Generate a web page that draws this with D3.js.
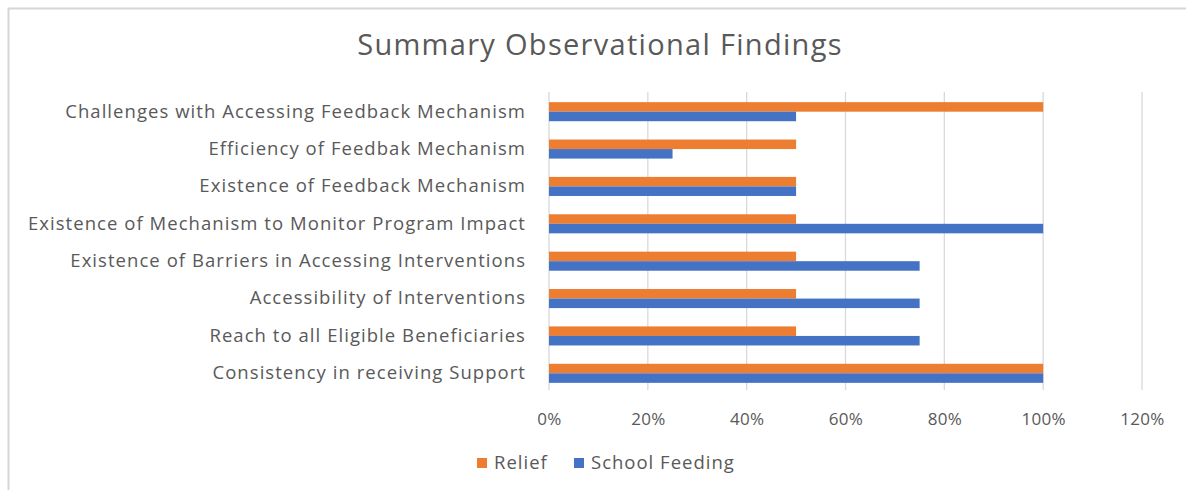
<!DOCTYPE html>
<html>
<head>
<meta charset="utf-8">
<script src="https://cdn.jsdelivr.net/npm/d3@7"></script>
<style>
  html, body { margin: 0; padding: 0; background: #fff; }
  svg { display: block; font-family: "Open Sans", "Noto Sans", sans-serif; }
</style>
</head>
<body>
<svg id="chart" width="1186" height="490"></svg>
<script>
// Categories, listed top to bottom as they appear on the chart
const categories = [
  "Challenges with Accessing Feedback Mechanism",
  "Efficiency of Feedbak Mechanism",
  "Existence of Feedback Mechanism",
  "Existence of Mechanism to Monitor Program Impact",
  "Existence of Barriers in Accessing Interventions ",
  "Accessibility of Interventions",
  "Reach to all Eligible Beneficiaries",
  "Consistency in receiving Support"
];
const seriesNames = ["Relief", "School Feeding"];
const reliefValues = [1.00, 0.50, 0.50, 0.50, 0.50, 0.50, 0.50, 1.00];
const schoolFeedingValues = [0.50, 0.25, 0.50, 1.00, 0.75, 0.75, 0.75, 1.00];
const tickValues = [0, 0.2, 0.4, 0.6, 0.8, 1.0, 1.2];
const titleText = "Summary Observational Findings";

const seriesColors = ["#ED7D31", "#4472C4"];
const textColor = "#595959";
const gridColor = "#D9D9D9";

const rows = categories.map((c, i) => ({
  category: c,
  values: [reliefValues[i], schoolFeedingValues[i]]
}));

const svg = d3.select("#chart");

// outer frame (top and left edges visible)
svg.append("path")
  .attr("d", "M8.5,490 L8.5,8.5 L1186,8.5")
  .attr("fill", "none")
  .attr("stroke", "#D6D6D6")
  .attr("stroke-width", 2);

const x = d3.scaleLinear().domain([0, 1.2]).range([549, 1142]);
const y = d3.scaleBand().domain(categories).range([93, 392])
  .paddingInner(0.49).paddingOuter(0.245);
const ySub = d3.scaleBand().domain(seriesNames).range([0, y.bandwidth()]);

// title
svg.append("text")
  .attr("x", 600).attr("y", 55)
  .attr("text-anchor", "middle")
  .attr("fill", textColor)
  .attr("font-size", 29)
  .attr("letter-spacing", 1.3)
  .text(titleText);

// vertical gridlines
svg.append("g")
  .selectAll("line")
  .data(tickValues)
  .join("line")
  .attr("x1", d => x(d)).attr("x2", d => x(d))
  .attr("y1", 92).attr("y2", 390)
  .attr("stroke", gridColor)
  .attr("stroke-width", 1.3);

// bars
const groups = svg.append("g")
  .selectAll("g")
  .data(rows)
  .join("g")
  .attr("transform", d => `translate(0,${y(d.category)})`);

groups.selectAll("rect")
  .data(d => d.values.map((v, k) => ({ name: seriesNames[k], value: v, k })))
  .join("rect")
  .attr("x", x(0))
  .attr("y", d => ySub(d.name))
  .attr("width", d => x(d.value) - x(0))
  .attr("height", ySub.bandwidth())
  .attr("fill", d => seriesColors[d.k]);

// category labels
const yAxis = d3.axisLeft(y).tickSize(0).tickPadding(0);
const yg = svg.append("g")
  .attr("transform", `translate(526,0)`)
  .call(yAxis);
yg.select(".domain").remove();
yg.selectAll("text")
  .attr("fill", textColor)
  .attr("font-size", 18.5)
  .attr("letter-spacing", 1.05)
  .attr("font-family", "'Open Sans', sans-serif");

// value axis labels
const xAxis = d3.axisBottom(x)
  .tickValues(tickValues)
  .tickFormat(d3.format(".0%"))
  .tickSize(0).tickPadding(0);
const xg = svg.append("g")
  .attr("transform", `translate(0,413)`)
  .call(xAxis);
xg.select(".domain").remove();
xg.selectAll("text")
  .attr("fill", textColor)
  .attr("font-size", 17)
  .attr("letter-spacing", 0.3)
  .attr("font-family", "'Open Sans', sans-serif");

// legend
const legendItems = [
  { name: seriesNames[0], color: seriesColors[0], x: 477 },
  { name: seriesNames[1], color: seriesColors[1], x: 574 }
];
const lg = svg.append("g").selectAll("g")
  .data(legendItems)
  .join("g")
  .attr("transform", d => `translate(${d.x},458)`);
lg.append("rect")
  .attr("width", 10).attr("height", 10)
  .attr("fill", d => d.color);
lg.append("text")
  .attr("x", 17).attr("y", 5)
  .attr("dy", "0.35em")
  .attr("fill", textColor)
  .attr("font-size", 18.5)
  .attr("letter-spacing", 1)
  .text(d => d.name);
</script>
</body>
</html>
